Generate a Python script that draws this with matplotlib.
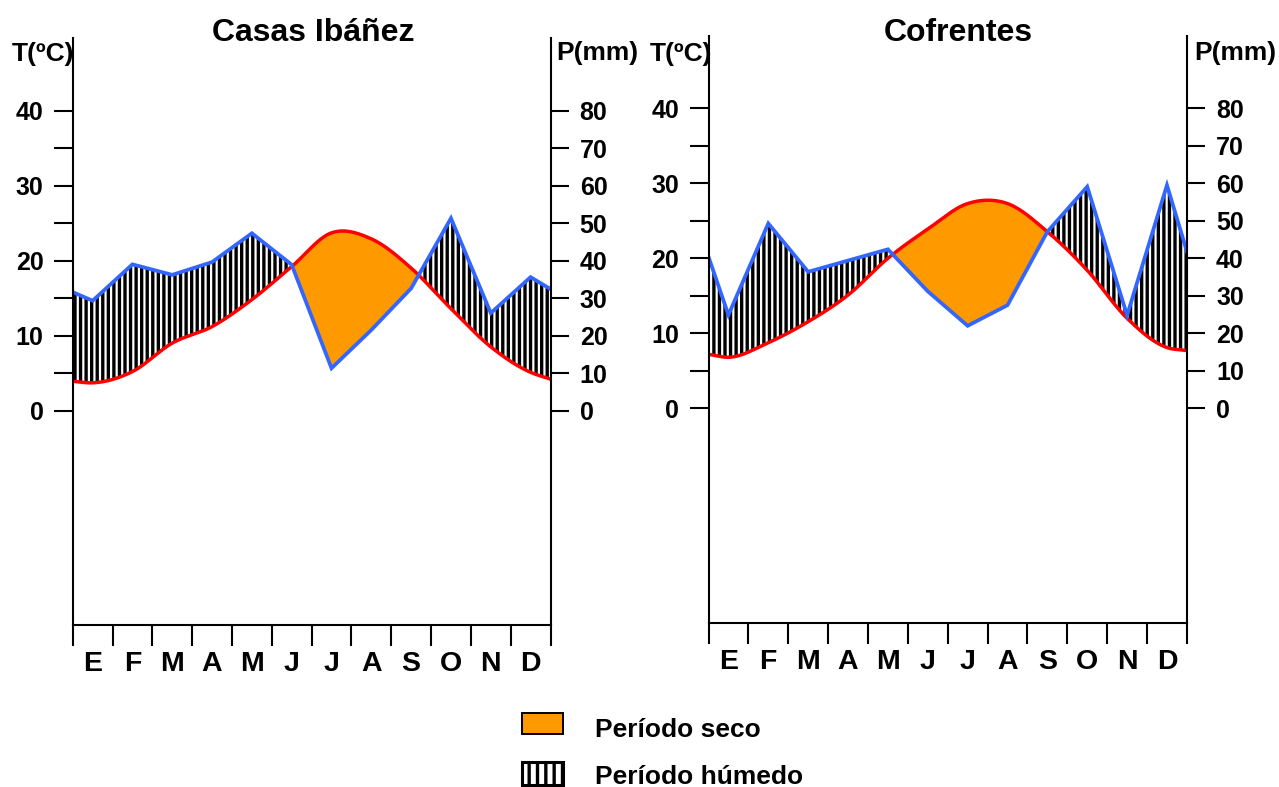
import numpy as np
import matplotlib
matplotlib.use("Agg")
import matplotlib.pyplot as plt
from matplotlib.patches import Rectangle
from matplotlib.ticker import FixedLocator, NullFormatter

plt.rcParams["font.family"] = ["Liberation Sans", "DejaVu Sans"]
plt.rcParams["font.weight"] = "bold"
plt.rcParams["hatch.linewidth"] = 2.4
plt.rcParams["hatch.color"] = "black"

# ---------------- data ----------------
MONTHS = ["E", "F", "M", "A", "M", "J", "J", "A", "S", "O", "N", "D"]

# values at the left edge, the 12 month centres, and the right edge
CASAS_T = [3.9, 3.7, 5.2, 9.0, 11.2, 14.8, 19.2, 23.7, 22.9, 19.0, 13.6, 8.5, 5.1, 4.2]
CASAS_P = [31.6, 29.3, 39.0, 36.2, 39.6, 47.3, 38.9, 11.3, 21.5, 32.6, 51.3, 26.0, 35.6, 32.4]

COFRENTES_T = [7.2, 6.8, 8.75, 11.55, 15.1, 20.0, 23.9, 27.3, 27.3, 23.55, 18.4, 12.0, 8.1, 7.7]
COFRENTES_P = [40.4, 24.9, 49.3, 36.4, 39.4, 42.4, 31.2, 22.0, 27.5, 47.1, 59.1, 24.8, 59.5, 41.8]

T_TICKS = [0, 10, 20, 30, 40]
P_TICKS = [0, 10, 20, 30, 40, 50, 60, 70, 80]

ORANGE = "#FF9900"
RED = "#FF0000"
BLUE = "#3366FF"

W, H = 1279, 787
T_LIM = (-28.6, 49.65)


def smooth(x, y, xf):
    # cubic hermite through the points, like a "smoothed line" in a spreadsheet
    x = np.asarray(x, float)
    y = np.asarray(y, float)
    m = np.gradient(y, x)
    i = np.clip(np.searchsorted(x, xf, side="right") - 1, 0, len(x) - 2)
    h = x[i + 1] - x[i]
    t = (xf - x[i]) / h
    h00 = 2 * t**3 - 3 * t**2 + 1
    h10 = t**3 - 2 * t**2 + t
    h01 = -2 * t**3 + 3 * t**2
    h11 = t**3 - t**2
    return h00 * y[i] + h10 * h * m[i] + h01 * y[i + 1] + h11 * h * m[i + 1]


def px(x0, y0, x1, y1):
    # pixel box (top-left origin) -> figure fraction rect
    return [x0 / W, 1 - y1 / H, (x1 - x0) / W, (y1 - y0) / H]


def climogram(fig, rect, temp, prec):
    ax = fig.add_axes(rect)
    xs = np.array([0.0] + [m + 0.5 for m in range(12)] + [12.0])
    xf = np.linspace(0, 12, 2401)
    tf = smooth(xs, temp, xf)
    pf = np.interp(xf, xs, np.asarray(prec, float)) / 2.0

    ax.fill_between(xf, tf, pf, where=pf >= tf, interpolate=True,
                    facecolor="white", edgecolor="black", hatch="|||", linewidth=0)
    ax.fill_between(xf, tf, pf, where=tf > pf, interpolate=True,
                    facecolor=ORANGE, edgecolor="none", linewidth=0)
    ax.plot(xf, tf, color=RED, lw=2.5, solid_capstyle="round")
    ax.plot(xs, np.asarray(prec) / 2.0, color=BLUE, lw=2.7, solid_joinstyle="miter")

    ax.set_xlim(0, 12)
    ax.set_ylim(*T_LIM)
    for s in ["top", "right"]:
        ax.spines[s].set_visible(False)
    for s in ["left", "bottom"]:
        ax.spines[s].set_linewidth(1.5)

    # month boundaries as ticks, names at the centres
    ax.xaxis.set_major_locator(FixedLocator(range(13)))
    ax.xaxis.set_major_formatter(NullFormatter())
    ax.xaxis.set_minor_locator(FixedLocator([m + 0.5 for m in range(12)]))
    ax.set_xticklabels(MONTHS, minor=True)
    ax.tick_params(axis="x", which="major", direction="out", length=15, width=1.5)
    ax.tick_params(axis="x", which="minor", length=0, pad=19, labelsize=20.5)

    ax.yaxis.set_major_locator(FixedLocator(T_TICKS))
    ax.yaxis.set_minor_locator(FixedLocator([5, 15, 25, 35]))
    ax.tick_params(axis="y", which="both", direction="out", length=14, width=1.5)
    ax.tick_params(axis="y", which="major", labelsize=18, pad=7)

    ax2 = ax.twinx()
    ax2.set_ylim(T_LIM[0] * 2, T_LIM[1] * 2)
    for s in ["top", "left", "bottom"]:
        ax2.spines[s].set_visible(False)
    ax2.spines["right"].set_linewidth(1.5)
    ax2.yaxis.set_major_locator(FixedLocator(P_TICKS))
    ax2.tick_params(axis="y", direction="out", length=13, width=1.5, labelsize=18, pad=8)
    return ax


fig = plt.figure(figsize=(W / 100, H / 100), dpi=100)

climogram(fig, px(72.7, 38.3, 550.5, 625.0), CASAS_T, CASAS_P)
climogram(fig, px(708.5, 36.0, 1186.9, 622.7), COFRENTES_T, COFRENTES_P)

# titles and axis names
fig.text(313 / W, 1 - 40.7 / H, "Casas Ibáñez", ha="center", va="baseline", fontsize=23)
fig.text(958 / W, 1 - 40.7 / H, "Cofrentes", ha="center", va="baseline", fontsize=23)
for x0 in (12, 650):
    fig.text(x0 / W, 1 - 61.5 / H, "T(ºC)", ha="left", va="baseline", fontsize=19)
for x0 in (556, 1194):
    fig.text(x0 / W, 1 - 60 / H, "P(mm)", ha="left", va="baseline", fontsize=19)

# legend
fig.add_artist(Rectangle((522 / W, 1 - 734 / H), 41 / W, 21 / H, transform=fig.transFigure,
                         facecolor=ORANGE, edgecolor="black", linewidth=1.4))
fig.add_artist(Rectangle((522 / W, 1 - 785 / H), 41 / W, 23 / H, transform=fig.transFigure,
                         facecolor="white", edgecolor="black", hatch="||", linewidth=2.2))
fig.text(595 / W, 1 - 737 / H, "Período seco", ha="left", va="baseline", fontsize=19)
fig.text(595 / W, 1 - 784 / H, "Período húmedo", ha="left", va="baseline", fontsize=19)

fig.savefig("out.png", dpi=100)
